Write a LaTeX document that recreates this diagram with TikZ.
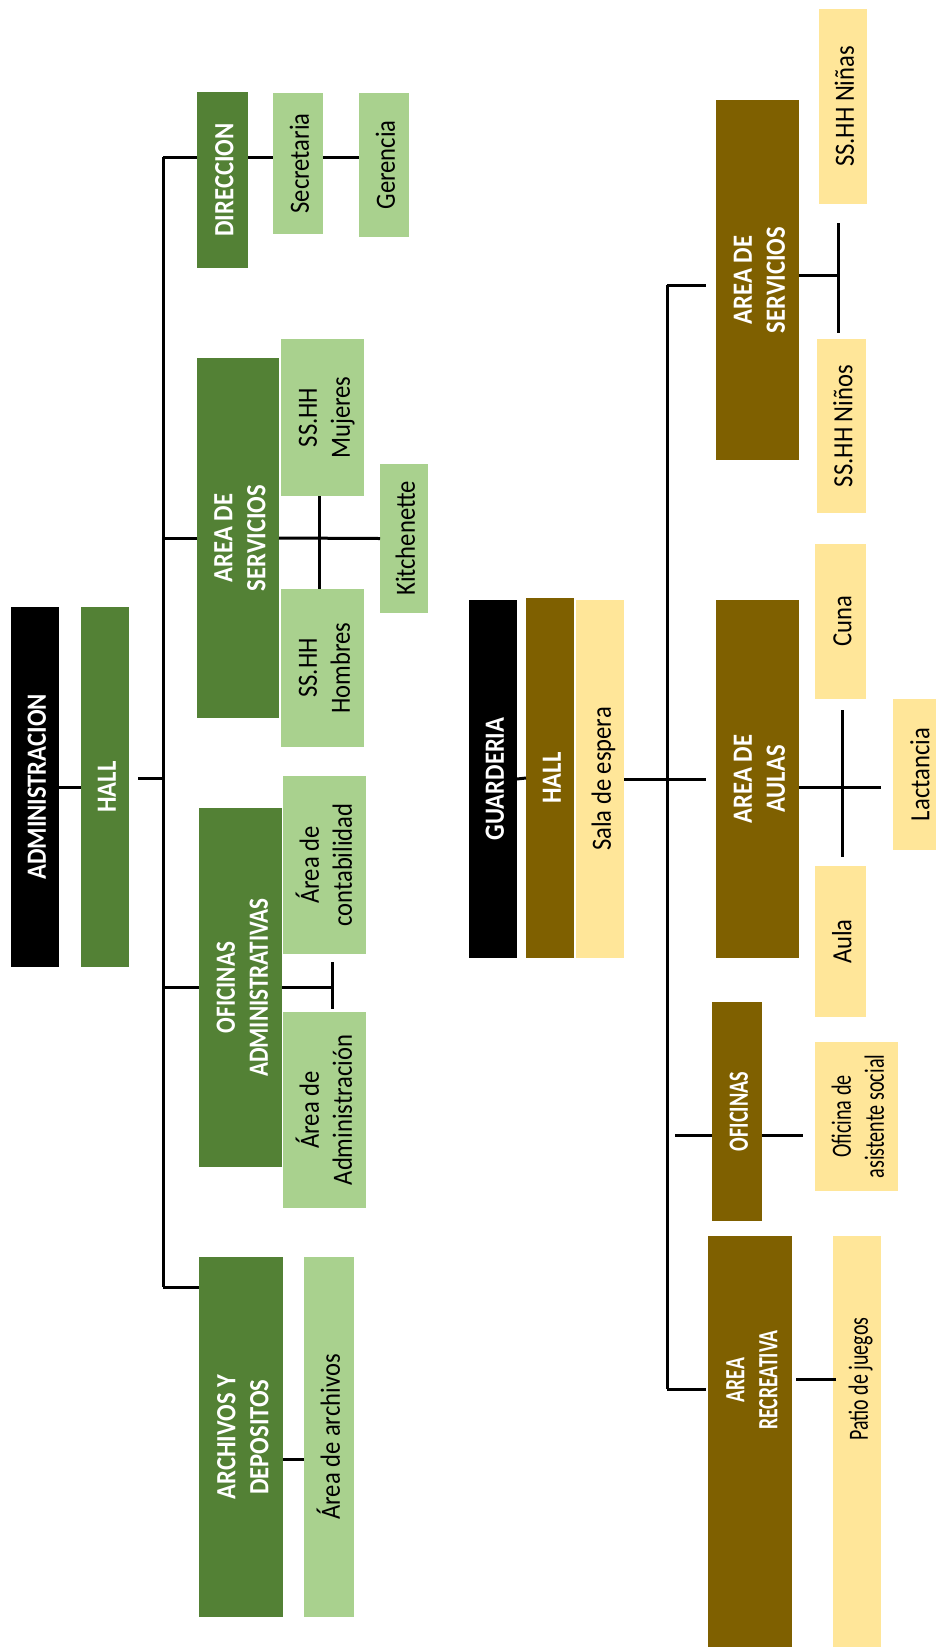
\documentclass[tikz,border=0pt]{standalone}
\usepackage{fontspec}
\setmainfont{Carlito}
\usepackage{graphicx}
\definecolor{dkgreen}{RGB}{83,129,53}
\definecolor{ltgreen}{RGB}{169,209,142}
\definecolor{dkbrown}{RGB}{127,96,0}
\definecolor{ltyellow}{RGB}{255,230,153}
\newcommand{\RT}[2][1]{\rotatebox{90}{\scalebox{#1}[1.13]{\raisebox{-3.8pt}[\height][\depth]{\begin{tabular}{@{}c@{}}#2\end{tabular}}}}}
\newcommand{\mkbox}[8][1]{\node[#2, minimum width={(#5-#4)*1pt}, minimum height={(#7-#6)*1pt}] (#3) at ({(#4+#5)/2},{(#6+#7)/2}) {\RT[#1]{#8}};}
\tikzset{
  box/.style={draw=none, inner sep=0pt, outer sep=0pt, font=\fontsize{24.6}{29.2}\selectfont},
  topbox/.style={box, fill=black, text=white, font=\fontsize{24.6}{29.2}\selectfont\bfseries},
  gdark/.style={box, fill=dkgreen, text=white, font=\fontsize{24.6}{29.2}\selectfont\bfseries},
  glight/.style={box, fill=ltgreen, text=black},
  bdark/.style={box, fill=dkbrown, text=white, font=\fontsize{24.6}{29.2}\selectfont\bfseries},
  blight/.style={box, fill=ltyellow, text=black},
  wlabel/.style={box, text=white, font=\fontsize{24.6}{29.2}\selectfont\bfseries},
  klabel/.style={box, text=black},
  conn/.style={draw=black, line width=3pt}
}
\begin{document}
\begin{tikzpicture}[x=1pt,y=-1pt]
\fill[white] (0,0) rectangle (936,1647);
\useasboundingbox (0,0) rectangle (936,1647);

% ---------------- ADMINISTRACION ----------------
\mkbox{topbox}{adm}{11}{59}{607}{967}{ADMINISTRACION}
\mkbox{gdark}{hallA}{81}{129}{607}{967}{HALL}
\mkbox{gdark}{dir}{197}{248}{92}{268}{DIRECCION}
\mkbox{glight}{sec}{273}{323}{93}{234}{Secretaria}
\mkbox{glight}{ger}{359}{409}{93}{237}{Gerencia}
\mkbox{gdark}{servA}{197}{279}{358}{718}{AREA DE\\SERVICIOS}
\mkbox{glight}{muj}{281}{364}{339}{496}{SS.HH\\Mujeres}
\mkbox{glight}{hom}{281}{364}{589}{747}{SS.HH\\Hombres}
\mkbox{glight}{kit}{380}{428}{464}{613}{Kitchenette}
\mkbox[0.94]{gdark}{ofA}{199}{282}{808}{1167}{OFICINAS\\ADMINISTRATIVAS}
\mkbox{glight}{cont}{283}{366}{776}{954}{Área de\\contabilidad}
\mkbox{glight}{admn}{283}{366}{1012}{1208}{Área de\\Administración}
\mkbox{gdark}{arch}{199}{283}{1257}{1617}{ARCHIVOS Y\\DEPOSITOS}
\mkbox{glight}{aarch}{304}{354}{1257}{1617}{Área de archivos}

\coordinate (tAt) at (163,157);
\coordinate (tAb) at (163,1287);
\coordinate (hA) at (138,778);
\coordinate (vS) at (319,538);
\coordinate (vO) at (332,986);
\coordinate (vOt) at (332,962);
\coordinate (vOb) at (332,1009);
\coordinate (aA) at (0,1459);

\draw[conn] (tAt) -- (tAb);
\draw[conn] (adm.east) -- (hallA.west);
\draw[conn] (hA) -- (hA -| tAt);
\draw[conn] (tAt) -- (tAt -| dir.west);
\draw[conn] (servA.west -| tAt) -- (servA.west);
\draw[conn] (ofA.west -| tAt) -- (ofA.west);
\draw[conn] (tAb) -- (tAb -| arch.west);
\draw[conn] (dir.east |- tAt) -- (sec.west |- tAt);
\draw[conn] (sec.east |- tAt) -- (ger.west |- tAt);
\draw[conn] (servA.east) -- (kit.west);
\draw[conn] (vS |- muj.south) -- (vS |- hom.north);
\draw[conn] (ofA.east) -- (ofA.east -| vO);
\draw[conn] (vOt) -- (vOb);
\draw[conn] (arch.east |- aA) -- (aarch.west |- aA);

% ---------------- GUARDERIA ----------------
\mkbox{topbox}{gua}{469}{517}{600}{958}{GUARDERIA}
\mkbox{bdark}{hallG}{526}{574}{598}{958}{HALL}
\mkbox{blight}{sala}{576}{624}{600}{958}{Sala de espera}
\mkbox{bdark}{servG}{716}{799}{100}{460}{AREA DE\\SERVICIOS}
\mkbox{blight}{nin}{819}{867}{9}{204}{SS.HH Niñas}
\mkbox{blight}{nino}{817}{866}{339}{513}{SS.HH Niños}
\mkbox{bdark}{aulas}{716}{799}{600}{958}{AREA DE\\AULAS}
\mkbox{blight}{cuna}{815}{866}{544}{699}{Cuna}
\mkbox{blight}{lact}{893}{944}{699}{850}{Lactancia}
\mkbox{blight}{aula}{815}{866}{866}{1017}{Aula}
\mkbox[0.82]{bdark}{ofG}{712}{762}{1002}{1221}{OFICINAS}
\mkbox[0.82]{blight}{asis}{815}{898}{1042}{1191}{Oficina de\\asistente social}
\mkbox{bdark}{rec}{708}{792}{1236}{1700}{}
\mkbox{blight}{patio}{833}{881}{1236}{1700}{}
\node[wlabel] (recT) at (750,1380) {\RT[0.8]{AREA\\RECREATIVA}};
\node[klabel] (patioT) at (857,1379) {\RT[0.81]{Patio de juegos}};

\coordinate (tGt) at (667,285);
\coordinate (tGb) at (667,1389);
\coordinate (eA) at (706,0);
\coordinate (oG) at (675,1135);
\coordinate (oGe) at (803,1135);
\coordinate (vN) at (838,275);
\coordinate (vNt) at (838,223);
\coordinate (vNb) at (838,333);
\coordinate (vL) at (842,787);
\coordinate (vLt) at (842,710);
\coordinate (vLb) at (842,857);
\coordinate (lE) at (881,787);
\coordinate (pS) at (796,1379);
\coordinate (pE) at (836,1379);

\draw[conn] (gua.east) -- (hallG.west);
\draw[conn] (tGt) -- (tGb);
\draw[conn] (sala.east) -- (sala.east -| eA);
\draw[conn] (tGt) -- (tGt -| eA);
\draw[conn] (tGb) -- (tGb -| eA);
\draw[conn] (oG) -- (oG -| ofG.west);
\draw[conn] (oG -| ofG.east) -- (oGe);
\draw[conn] (servG.east |- vN) -- (vN);
\draw[conn] (vNt) -- (vNb);
\draw[conn] (aulas.east |- vL) -- (lE);
\draw[conn] (vLt) -- (vLb);
\draw[conn] (pS) -- (pE);
\end{tikzpicture}
\end{document}
